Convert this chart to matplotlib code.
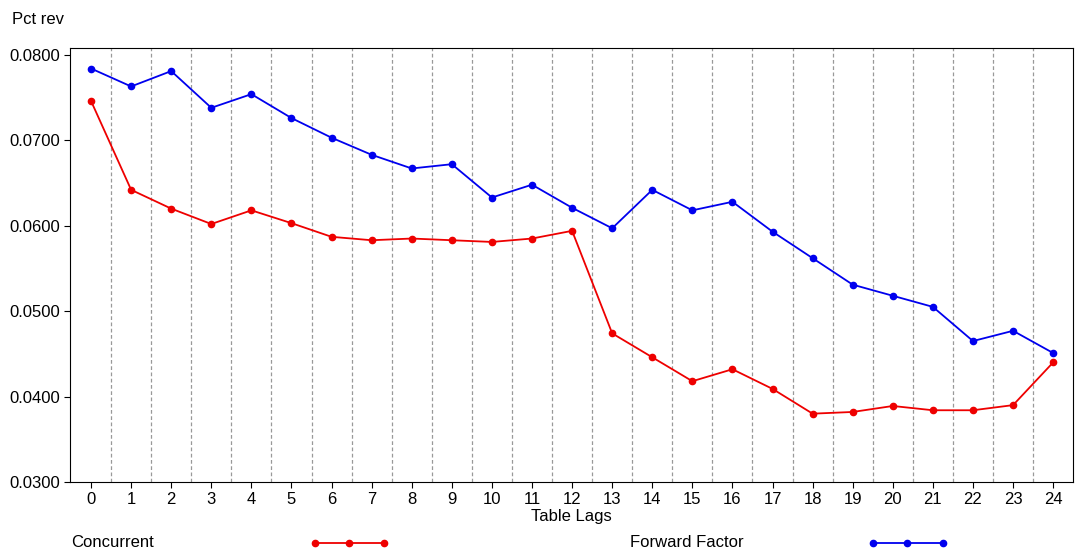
import matplotlib
matplotlib.use("Agg")
import matplotlib.pyplot as plt
from matplotlib.lines import Line2D

plt.rcParams['font.family'] = ['Liberation Sans', 'DejaVu Sans']

lags = list(range(25))
concurrent = [0.0746, 0.0642, 0.0620, 0.0602, 0.0618, 0.0603, 0.0587, 0.0583, 0.0585,
              0.0583, 0.0581, 0.0585, 0.0594, 0.0474, 0.0446, 0.0418, 0.0432, 0.0409,
              0.0380, 0.0382, 0.0389, 0.0384, 0.0384, 0.0390, 0.0440]
forward = [0.0784, 0.0763, 0.0781, 0.0738, 0.0754, 0.0726, 0.0703, 0.0683, 0.0667,
           0.0672, 0.0633, 0.0648, 0.0621, 0.0597, 0.0642, 0.0618, 0.0628, 0.0593,
           0.0562, 0.0531, 0.0518, 0.0505, 0.0465, 0.0477, 0.0451]
yticks = [0.03, 0.04, 0.05, 0.06, 0.07, 0.08]

fig = plt.figure(figsize=(10.8, 5.55), dpi=100)
ax = fig.add_axes([0.065, 0.1315, 0.9287, 0.782])

for i in range(len(lags) - 1):
    ax.axvline(i + 0.5, color="#999999", linestyle=(0, (3, 2)), linewidth=0.9, zorder=1)

ax.plot(lags, forward, color="#0000ee", marker="o", markersize=4.5, linewidth=1.3, zorder=3)
ax.plot(lags, concurrent, color="#ee0000", marker="o", markersize=4.5, linewidth=1.3, zorder=3)

ax.set_xlim(-0.52, 24.5)
ax.set_ylim(0.03, 0.0808)
ax.set_xticks(lags)
ax.set_yticks(yticks)
ax.set_yticklabels([f"{v:.4f}" for v in yticks])
ax.tick_params(labelsize=12, length=4, direction="out")
ax.set_xlabel("Table Lags", fontsize=12, labelpad=1)
fig.text(0.011, 0.965, "Pct rev", fontsize=12, va="center")

# legend along the bottom
fig.text(0.066, 0.022, "Concurrent", fontsize=12, va="center")
fig.add_artist(Line2D([0.292, 0.323, 0.356], [0.022] * 3, color="#ee0000",
                      marker="o", markersize=4.5, linewidth=1.3, transform=fig.transFigure))
fig.text(0.583, 0.022, "Forward Factor", fontsize=12, va="center")
fig.add_artist(Line2D([0.808, 0.840, 0.873], [0.022] * 3, color="#0000ee",
                      marker="o", markersize=4.5, linewidth=1.3, transform=fig.transFigure))

fig.savefig("out.png", dpi=100)
